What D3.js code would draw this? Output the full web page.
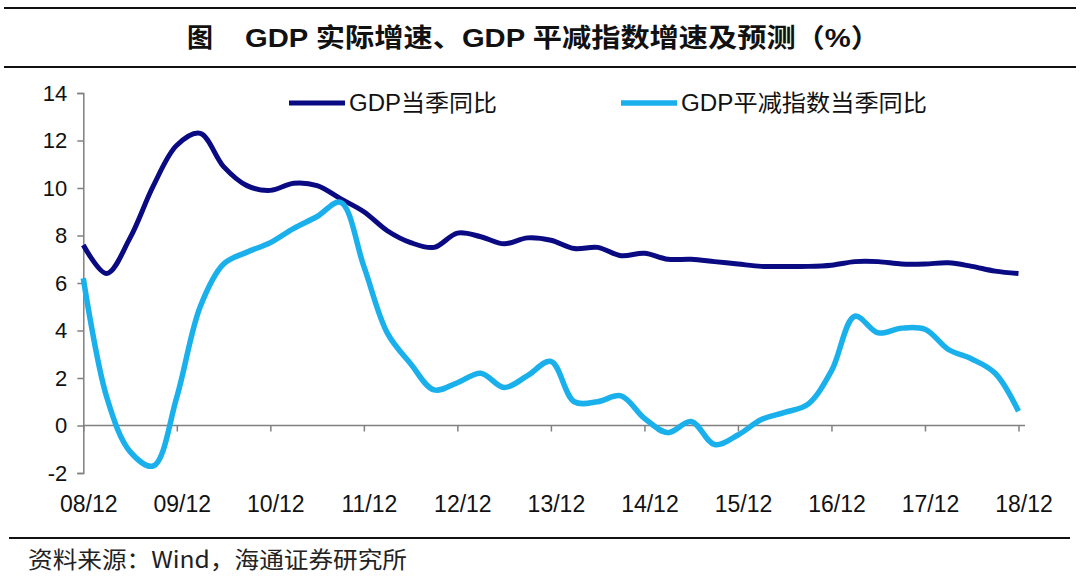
<!DOCTYPE html>
<html><head><meta charset="utf-8">
<script src="https://cdn.jsdelivr.net/npm/d3@7"></script>
<style>
html,body{margin:0;padding:0;background:#fff;}
svg{display:block;}
</style></head>
<body>
<svg id="chart" width="1080" height="577"></svg>
<script>
// ---- data (quarterly, 2008Q4 .. 2018Q4) ----
const quarters = [
 "08Q4","09Q1","09Q2","09Q3","09Q4","10Q1","10Q2","10Q3","10Q4",
 "11Q1","11Q2","11Q3","11Q4","12Q1","12Q2","12Q3","12Q4",
 "13Q1","13Q2","13Q3","13Q4","14Q1","14Q2","14Q3","14Q4",
 "15Q1","15Q2","15Q3","15Q4","16Q1","16Q2","16Q3","16Q4",
 "17Q1","17Q2","17Q3","17Q4","18Q1","18Q2","18Q3","18Q4"];
const gdpYoY = [7.6,6.4,7.9,10.1,11.8,12.3,10.9,10.1,9.9,
 10.2,10.1,9.55,9.0,8.2,7.7,7.5,8.1,
 7.95,7.65,7.9,7.8,7.45,7.5,7.15,7.25,
 7.0,7.0,6.9,6.8,6.7,6.7,6.7,6.75,
 6.9,6.9,6.8,6.8,6.85,6.7,6.5,6.4];
const deflatorYoY = [6.2,1.2,-1.1,-1.7,1.2,5.0,6.8,7.3,7.7,
 8.3,8.8,9.4,6.7,3.9,2.6,1.5,1.8,
 2.2,1.6,2.1,2.7,1.0,1.0,1.25,0.3,
 -0.3,0.17,-0.8,-0.4,0.25,0.55,0.9,2.3,
 4.6,3.9,4.1,4.05,3.2,2.8,2.2,0.6];
const xTickLabels = ["08/12","09/12","10/12","11/12","12/12","13/12","14/12","15/12","16/12","17/12","18/12"];
const yTicks = [-2,0,2,4,6,8,10,12,14];
const seriesNames = ["GDP当季同比","GDP平减指数当季同比"];
const seriesColors = ["#0a0a82","#1ab0ec"];
const titleText = "GDP 实际增速、GDP 平减指数增速及预测（%）";
const sourceText = "资料来源：Wind，海通证券研究所";

const svg = d3.select("#chart");
const latin = "'Liberation Sans', Arial, 'Noto Sans CJK SC', sans-serif";

// title block
svg.append("line").attr("x1",4).attr("x2",1076).attr("y1",8).attr("y2",8)
  .attr("stroke","#111").attr("stroke-width",2);
svg.append("line").attr("x1",4).attr("x2",1076).attr("y1",67).attr("y2",67)
  .attr("stroke","#111").attr("stroke-width",2);
svg.append("text").attr("x",187).attr("y",47).text("图")
  .attr("font-family",latin).attr("font-weight","bold").attr("font-size",26).attr("fill","#111");
svg.append("text").attr("x",245).attr("y",47).text(titleText)
  .attr("textLength",635).attr("lengthAdjust","spacingAndGlyphs")
  .attr("font-family",latin).attr("font-weight","bold").attr("font-size",26).attr("fill","#111");

// scales
const x = d3.scaleLinear().domain([0, quarters.length-1]).range([83.3, 1018.5]);
const y = d3.scaleLinear().domain([-2,14]).range([473, 93]);

// y axis
const yAxis = d3.axisLeft(y).tickValues(yTicks).tickSize(6).tickPadding(10).tickFormat(d=>String(d));
const gy = svg.append("g").attr("transform",`translate(${x(0)},0)`).call(yAxis);
gy.select(".domain").attr("stroke","#808080").attr("stroke-width",1.5);
gy.selectAll(".tick line").attr("stroke","#808080").attr("stroke-width",1.5);
gy.selectAll(".tick text").attr("font-family",latin).attr("font-size",22).attr("fill","#111");

// x axis at y=0
const tickIdx = xTickLabels.map((d,i)=>i*4);
const xAxis = d3.axisBottom(x).tickValues(tickIdx).tickSize(6).tickFormat((d,i)=>xTickLabels[i]);
const gx = svg.append("g").attr("transform",`translate(0,${y(0)})`).call(xAxis);
gx.select(".domain").attr("d",`M${x(0)},0H1025`).attr("stroke","#808080").attr("stroke-width",1.5);
gx.selectAll(".tick line").attr("stroke","#808080").attr("stroke-width",1.5);
gx.selectAll(".tick text").attr("font-family",latin).attr("font-size",23).attr("fill","#111")
  .attr("y", y(-2)-y(0)+23).attr("dx",5);

// lines
const line = d3.line().x((d,i)=>x(i)).y(d=>y(d)).curve(d3.curveCatmullRom.alpha(0.5));
[gdpYoY, deflatorYoY].forEach((s,k)=>{
  svg.append("path").datum(s).attr("d",line).attr("fill","none")
    .attr("stroke",seriesColors[k]).attr("stroke-width",k===0?5:5.5)
    .attr("stroke-linejoin","round").attr("stroke-linecap","butt");
});

// legend
const legendPos = [{x:289, y:103},{x:621, y:103}];
const legendTextLen = [148, 246];
seriesNames.forEach((n,k)=>{
  const p = legendPos[k];
  svg.append("line").attr("x1",p.x).attr("x2",p.x+56).attr("y1",p.y).attr("y2",p.y)
    .attr("stroke",seriesColors[k]).attr("stroke-width",k===0?5:5.5);
  svg.append("text").attr("x",p.x+60).attr("y",p.y+8).text(n)
    .attr("textLength",legendTextLen[k]).attr("lengthAdjust","spacingAndGlyphs")
    .attr("font-family",latin).attr("font-size",23).attr("fill","#111");
});

// footer
svg.append("line").attr("x1",9).attr("x2",1070).attr("y1",538).attr("y2",538)
  .attr("stroke","#111").attr("stroke-width",2);
svg.append("text").attr("x",28).attr("y",568).text(sourceText)
  .attr("textLength",379).attr("lengthAdjust","spacingAndGlyphs")
  .attr("font-family","'Noto Sans CJK SC', sans-serif").attr("font-size",23).attr("fill","#222");
</script>
</body></html>
